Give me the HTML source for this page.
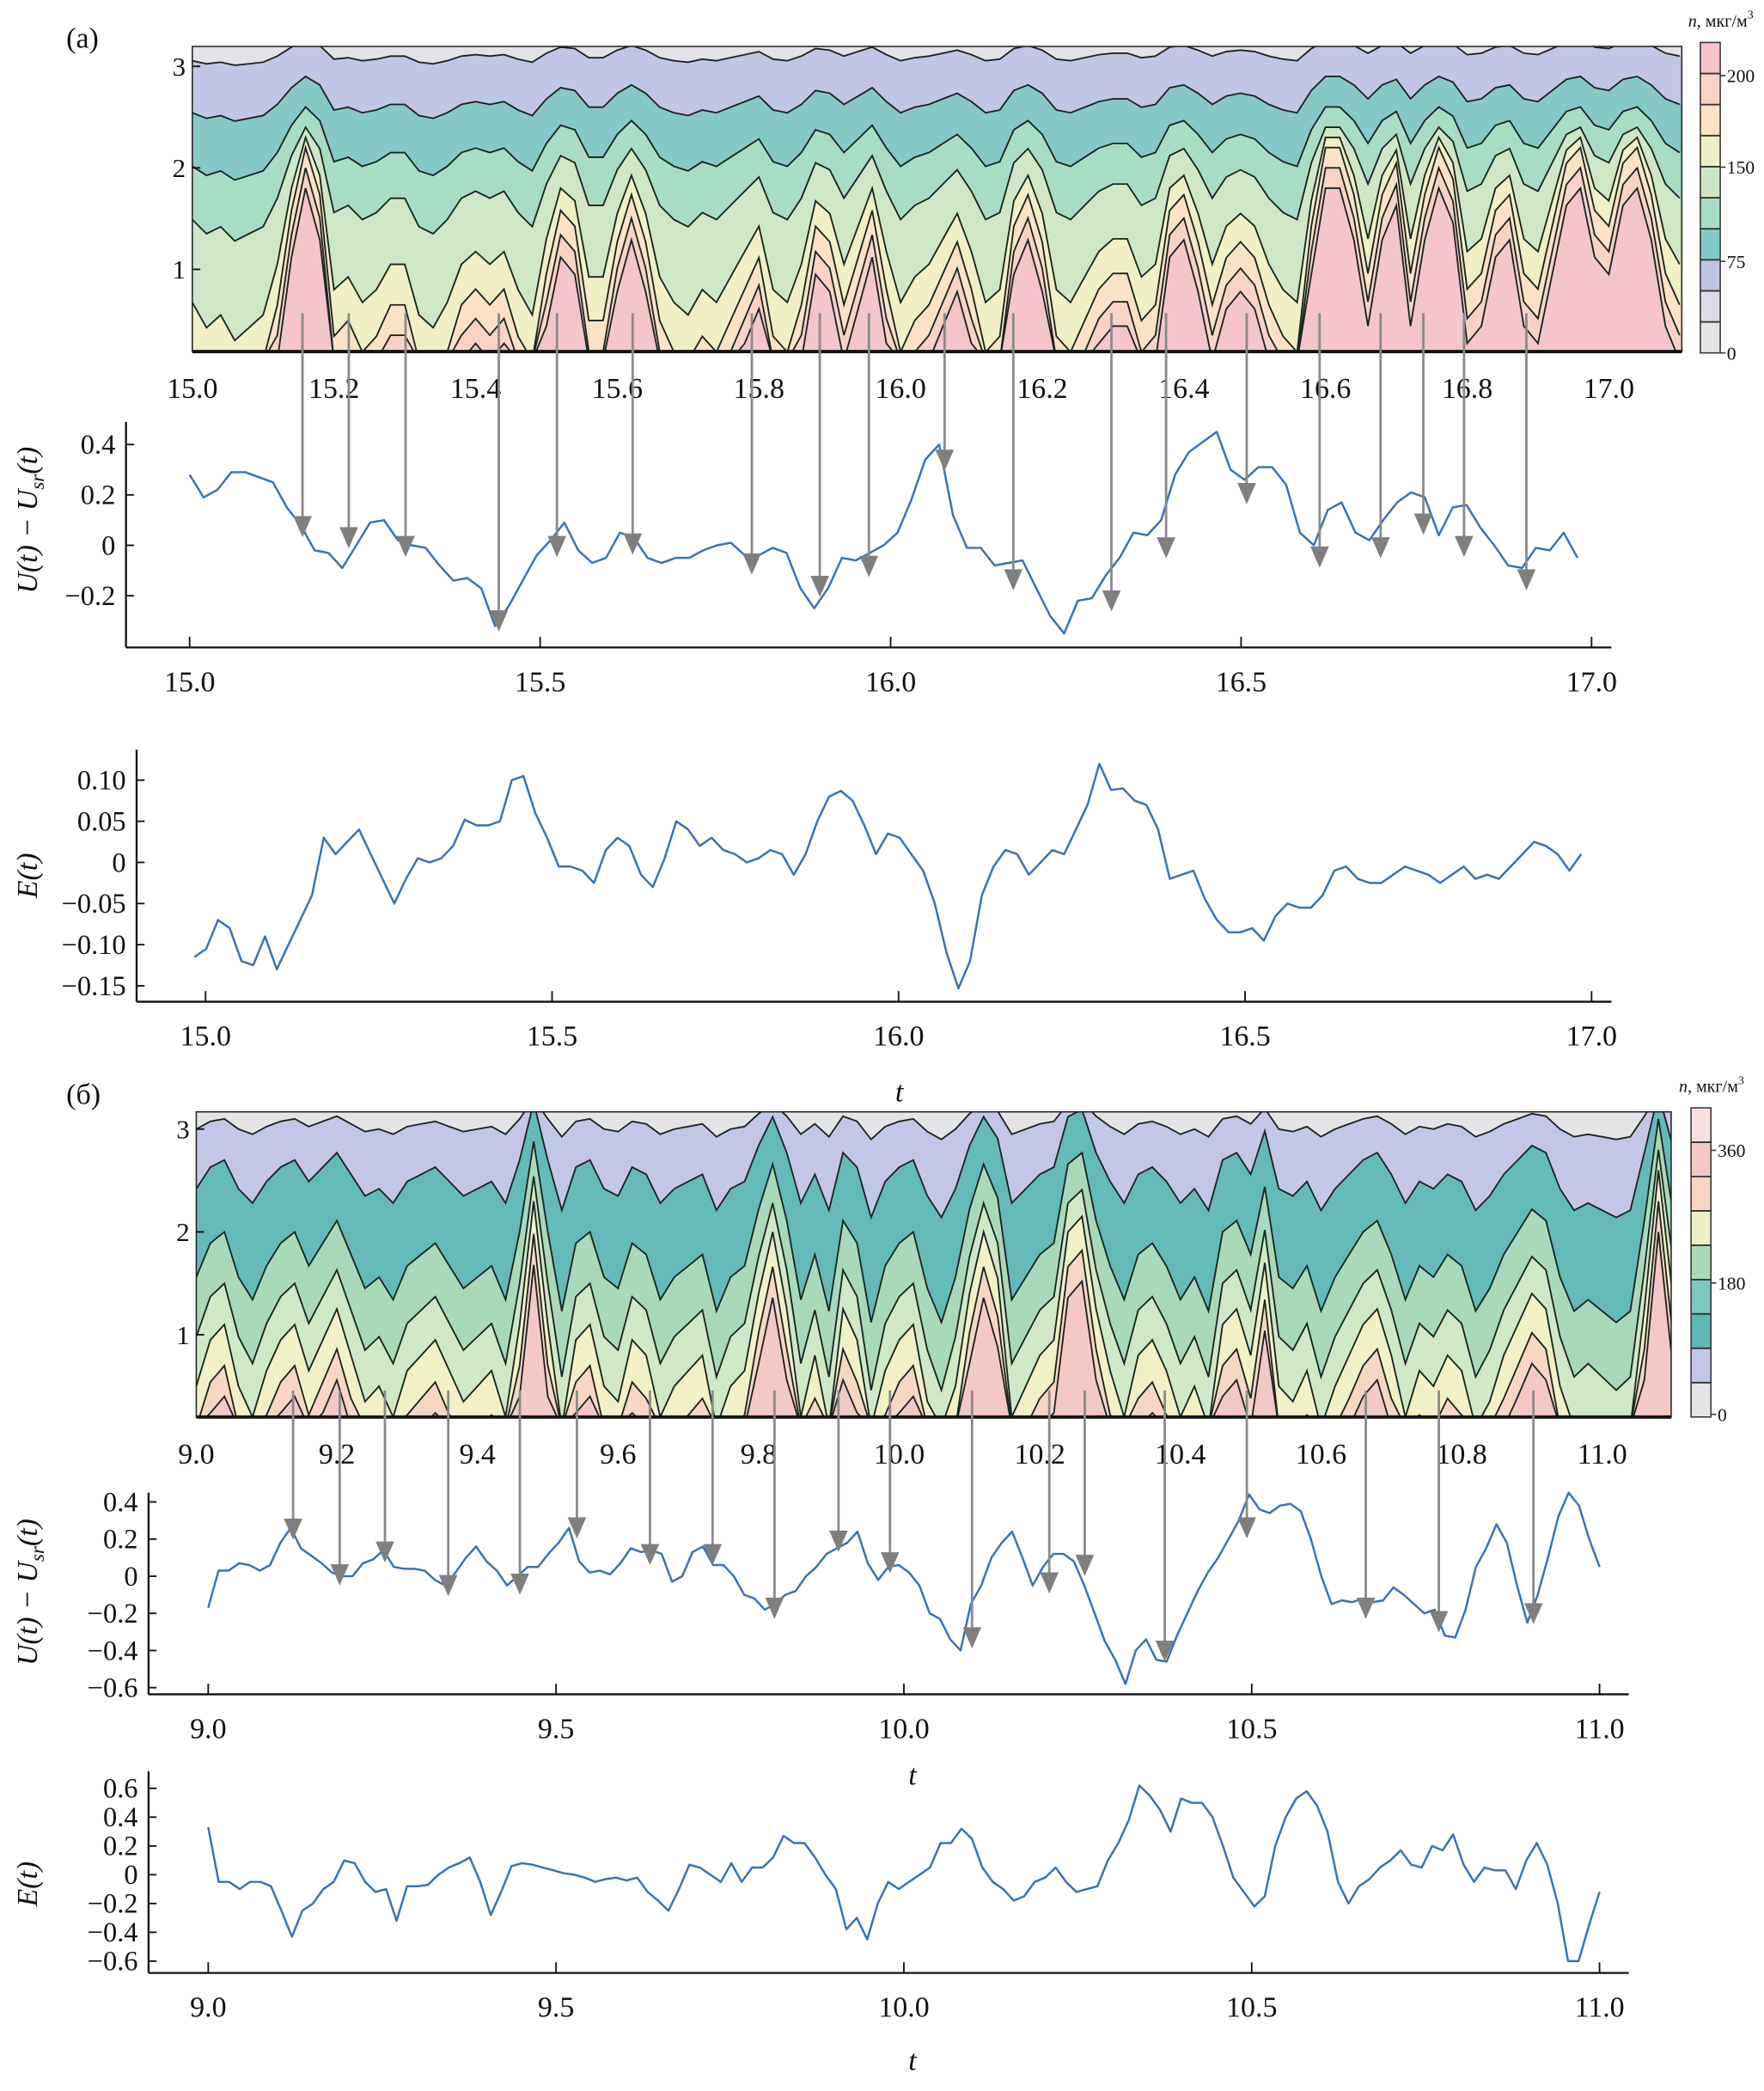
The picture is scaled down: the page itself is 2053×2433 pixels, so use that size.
<!DOCTYPE html>
<html><head><meta charset="utf-8"><style>
html,body{margin:0;padding:0;background:#fff}
svg{display:block}
text{font-family:"Liberation Serif",serif;fill:#111}
</style></head><body>
<svg id="fig" xmlns="http://www.w3.org/2000/svg" width="2053" height="2433" viewBox="0 0 1330 1576" preserveAspectRatio="none">
<defs>
<clipPath id="clipA"><rect x="145" y="35" width="1123" height="230"/></clipPath>
<clipPath id="clipB"><rect x="148" y="838" width="1112" height="230"/></clipPath>
</defs>
<g id="root"></g>
</svg>
<script>
// ---------- data ----------
const densA = [0.35,0.25,0.3,0.2,0.25,0.3,0.5,0.8,1.0,0.85,0.4,0.45,0.35,0.4,0.5,0.5,0.3,0.25,0.35,0.5,0.55,0.5,0.55,0.4,0.3,0.6,0.8,0.75,0.45,0.45,0.7,0.85,0.7,0.45,0.35,0.3,0.4,0.35,0.45,0.55,0.65,0.4,0.35,0.5,0.75,0.7,0.5,0.65,0.8,0.55,0.35,0.45,0.5,0.6,0.7,0.55,0.35,0.4,0.75,0.85,0.7,0.4,0.35,0.45,0.55,0.6,0.6,0.45,0.5,0.8,0.85,0.7,0.5,0.65,0.7,0.65,0.5,0.4,0.35,0.75,1.0,1.0,0.85,0.6,0.85,0.95,0.6,0.85,1.0,0.9,0.55,0.6,0.8,0.85,0.6,0.55,0.75,0.95,1.0,0.8,0.75,0.95,1.0,0.85,0.6,0.5];
const densB = [0.3,0.45,0.5,0.3,0.2,0.35,0.45,0.5,0.35,0.45,0.55,0.4,0.25,0.3,0.2,0.35,0.4,0.45,0.35,0.25,0.3,0.35,0.2,0.5,0.9,0.5,0.15,0.45,0.5,0.3,0.25,0.45,0.4,0.2,0.3,0.35,0.4,0.15,0.3,0.35,0.6,0.8,0.55,0.2,0.4,0.15,0.55,0.45,0.1,0.35,0.45,0.5,0.25,0.1,0.3,0.6,0.8,0.65,0.2,0.3,0.4,0.45,0.8,0.85,0.55,0.35,0.2,0.4,0.45,0.35,0.2,0.3,0.15,0.5,0.55,0.4,0.7,0.3,0.25,0.35,0.15,0.3,0.4,0.5,0.55,0.4,0.2,0.35,0.3,0.4,0.35,0.15,0.25,0.4,0.5,0.6,0.55,0.3,0.15,0.2,0.15,0.1,0.15,0.55,1.0,0.6];
const uA = [0.28,0.19,0.22,0.29,0.29,0.27,0.25,0.15,0.08,-0.02,-0.03,-0.09,0.0,0.09,0.10,0.02,0.0,-0.01,-0.08,-0.14,-0.13,-0.17,-0.32,-0.24,-0.14,-0.04,0.02,0.09,-0.02,-0.07,-0.05,0.05,0.03,-0.05,-0.07,-0.05,-0.05,-0.02,0.0,0.01,-0.04,-0.04,-0.01,-0.03,-0.17,-0.25,-0.17,-0.05,-0.06,-0.03,0.0,0.05,0.18,0.34,0.40,0.12,-0.01,-0.01,-0.08,-0.07,-0.06,-0.17,-0.28,-0.35,-0.22,-0.21,-0.12,-0.05,0.05,0.04,0.10,0.28,0.37,0.41,0.45,0.30,0.26,0.31,0.31,0.24,0.05,0.0,0.14,0.17,0.05,0.02,0.10,0.17,0.21,0.19,0.04,0.15,0.16,0.07,0.0,-0.08,-0.09,-0.01,-0.02,0.05,-0.05];
const eA = [-0.115,-0.105,-0.07,-0.08,-0.12,-0.125,-0.09,-0.13,-0.10,-0.07,-0.04,0.03,0.01,0.025,0.04,0.01,-0.02,-0.05,-0.02,0.005,0.0,0.005,0.02,0.052,0.045,0.045,0.05,0.10,0.105,0.06,0.03,-0.005,-0.005,-0.01,-0.025,0.015,0.03,0.02,-0.015,-0.03,0.005,0.05,0.04,0.02,0.03,0.015,0.01,0.0,0.005,0.015,0.01,-0.015,0.01,0.05,0.08,0.087,0.075,0.045,0.01,0.035,0.03,0.01,-0.01,-0.05,-0.11,-0.153,-0.12,-0.04,-0.005,0.015,0.01,-0.015,0.0,0.015,0.01,0.04,0.07,0.12,0.088,0.09,0.075,0.07,0.04,-0.02,-0.015,-0.01,-0.045,-0.07,-0.085,-0.085,-0.08,-0.095,-0.065,-0.05,-0.055,-0.055,-0.04,-0.01,-0.005,-0.02,-0.025,-0.025,-0.015,-0.005,-0.01,-0.015,-0.025,-0.015,-0.005,-0.02,-0.015,-0.02,-0.005,0.01,0.025,0.02,0.01,-0.01,0.01];
const uB = [-0.17,0.03,0.03,0.07,0.06,0.03,0.06,0.18,0.26,0.15,0.11,0.07,0.02,0.0,0.0,0.07,0.09,0.14,0.05,0.04,0.04,0.03,-0.02,-0.05,0.02,0.10,0.16,0.08,0.03,-0.05,0.0,0.05,0.05,0.12,0.18,0.26,0.08,0.02,0.03,0.01,0.07,0.15,0.13,0.14,0.12,-0.03,0.0,0.13,0.16,0.06,0.06,0.0,-0.1,-0.12,-0.18,-0.15,-0.1,-0.08,0.0,0.05,0.12,0.15,0.18,0.24,0.07,-0.02,0.05,0.06,0.02,-0.05,-0.2,-0.23,-0.34,-0.40,-0.15,-0.05,0.1,0.18,0.24,0.1,-0.05,0.05,0.12,0.12,0.08,-0.05,-0.2,-0.35,-0.45,-0.58,-0.40,-0.34,-0.45,-0.46,-0.32,-0.20,-0.08,0.02,0.10,0.20,0.30,0.44,0.36,0.34,0.38,0.39,0.35,0.20,0.0,-0.15,-0.13,-0.14,-0.12,-0.14,-0.13,-0.06,-0.10,-0.15,-0.20,-0.18,-0.32,-0.33,-0.18,0.05,0.15,0.28,0.18,-0.05,-0.25,-0.10,0.10,0.32,0.45,0.38,0.2,0.05];
const eB = [0.33,-0.05,-0.05,-0.1,-0.05,-0.05,-0.08,-0.25,-0.43,-0.25,-0.2,-0.1,-0.05,0.1,0.08,-0.05,-0.12,-0.1,-0.32,-0.08,-0.08,-0.07,0.0,0.05,0.08,0.12,-0.05,-0.28,-0.12,0.06,0.08,0.07,0.05,0.03,0.01,0.0,-0.02,-0.05,-0.03,-0.02,-0.04,-0.02,-0.12,-0.18,-0.25,-0.1,0.07,0.05,0.0,-0.05,0.08,-0.05,0.05,0.05,0.12,0.27,0.22,0.22,0.12,0.0,-0.1,-0.38,-0.3,-0.45,-0.2,-0.05,-0.1,-0.05,0.0,0.05,0.22,0.22,0.32,0.25,0.05,-0.05,-0.1,-0.18,-0.15,-0.05,-0.02,0.05,-0.05,-0.12,-0.1,-0.08,0.1,0.22,0.38,0.62,0.55,0.45,0.3,0.53,0.5,0.5,0.4,0.2,-0.02,-0.12,-0.22,-0.15,0.2,0.4,0.53,0.58,0.48,0.3,-0.05,-0.2,-0.08,-0.03,0.05,0.1,0.17,0.07,0.05,0.2,0.17,0.28,0.07,-0.05,0.05,0.03,0.03,-0.1,0.1,0.22,0.07,-0.2,-0.6,-0.6,-0.35,-0.12];
const arrowTA = [15.161,15.227,15.308,15.441,15.524,15.632,15.802,15.899,15.969,16.077,16.175,16.315,16.393,16.508,16.612,16.699,16.760,16.818,16.907];
const arrowUA = [0.074,0.03,-0.005,-0.30,-0.005,0.005,-0.074,-0.163,-0.084,0.337,-0.137,-0.221,-0.01,0.205,-0.047,-0.01,0.084,-0.005,-0.137];
const arrowTB = [9.122,9.189,9.254,9.345,9.448,9.530,9.635,9.725,9.814,9.906,9.980,10.098,10.209,10.260,10.375,10.493,10.664,10.769,10.905];
const arrowUB = [0.253,0.007,0.130,-0.051,-0.043,0.260,0.116,0.116,-0.173,0.188,0.072,-0.332,-0.036,0.058,-0.404,0.260,-0.173,-0.245,-0.202];
const ticksContA = ["15.0","15.2","15.4","15.6","15.8","16.0","16.2","16.4","16.6","16.8","17.0"];
const ticksContB = ["9.0","9.2","9.4","9.6","9.8","10.0","10.2","10.4","10.6","10.8","11.0"];
const ticksUA = ["0.4","0.2","0","\u22120.2"], ticksUAv=[0.4,0.2,0,-0.2];
const ticksEA = ["0.10","0.05","0","\u22120.05","\u22120.10","\u22120.15"], ticksEAv=[0.10,0.05,0,-0.05,-0.10,-0.15];
const ticksUB = ["0.4","0.2","0","\u22120.2","\u22120.4","\u22120.6"], ticksUBv=[0.4,0.2,0,-0.2,-0.4,-0.6];
const ticksEB = ["0.6","0.4","0.2","0","\u22120.2","\u22120.4","\u22120.6"], ticksEBv=[0.6,0.4,0.2,0,-0.2,-0.4,-0.6];

// ---------- helpers ----------
const NS="http://www.w3.org/2000/svg";
const root=document.getElementById('root');
function mk(tag,attrs,parent,txt){const e=document.createElementNS(NS,tag);for(const k in attrs)e.setAttribute(k,attrs[k]);if(txt!==undefined)e.textContent=txt;(parent||root).appendChild(e);return e;}
function lin(d0,d1,r0,r1){return v=>r0+(v-d0)*(r1-r0)/(d1-d0);}

// ---------- contour panel ----------
function contour(opt){
  const g=mk('g',{});
  
  
  const xs=lin(opt.t0,opt.t1,opt.x0,opt.x1), ys=lin(3,1,opt.y3,opt.y1);
  const n=opt.dens.length;
  const gc=mk('g',{'clip-path':'url(#'+opt.clip+')'},g);
  mk('rect',{x:opt.L,y:opt.T,width:opt.R-opt.L,height:opt.B-opt.T,fill:opt.colors[0]},gc);
  const lines=[];
  opt.bounds.forEach((b,m)=>{
    const pts=[];
    for(let j=0;j<n;j++){const t=opt.c0+opt.cs*j;let h=b[0]+b[1]*opt.dens[j];h=Math.max(0.1,Math.min(3.35,h));pts.push([xs(t),ys(h)]);}
    let d='M'+opt.L+','+opt.T+' L'+opt.L+','+pts[0][1]+' '+pts.map(p=>p[0].toFixed(1)+','+p[1].toFixed(1)).join(' ')+' L'+opt.R+','+pts[n-1][1]+' L'+opt.R+','+opt.T+' Z';
    const band=mk('path',{d:d,fill:opt.colors[m+1]},gc);
    
    
    lines.push(pts);
  });
  lines.forEach((pts,m)=>{
    const pl=mk('polyline',{points:pts.map(p=>p[0].toFixed(1)+','+p[1].toFixed(1)).join(' '),fill:'none',stroke:'#1a2422','stroke-width':1.2},gc);
    
    
  });
  mk('rect',{x:opt.L,y:opt.T,width:opt.R-opt.L,height:opt.B-opt.T,fill:'none',stroke:'#222','stroke-width':1},g);
  mk('line',{x1:opt.L,y1:opt.B,x2:opt.R,y2:opt.B,stroke:'#111','stroke-width':2.5},g);
  [1,2,3].forEach(v=>{
    mk('line',{x1:opt.L,y1:ys(v),x2:opt.L+6,y2:ys(v),stroke:'#111','stroke-width':1.2},g);
    const tl=mk('text',{x:opt.L-5,y:ys(v)+7,'font-size':20,'text-anchor':'end'},g,String(v));
    
    
  });
  opt.ticks.forEach((s,i)=>{
    const tl=mk('text',{x:xs(opt.t0+0.2*i),y:opt.B+35,'font-size':22,'text-anchor':'middle'},g,s);
    
    
  });
  const cb=mk('g',{},g);
  
  
  const nb=opt.cbColors.length, bh=(opt.cbB-opt.cbT)/nb;
  opt.cbColors.forEach((c,i)=>{
    mk('rect',{x:opt.cbX,y:opt.cbB-(i+1)*bh,width:15,height:bh,fill:c},cb);
    if(i>0) mk('line',{x1:opt.cbX,x2:opt.cbX+15,y1:opt.cbB-i*bh,y2:opt.cbB-i*bh,stroke:'#333','stroke-width':1.2},cb);
  });
  mk('rect',{x:opt.cbX,y:opt.cbT,width:15,height:opt.cbB-opt.cbT,fill:'none',stroke:'#333','stroke-width':1},cb);
  opt.cbLabels.forEach(l=>{
    mk('line',{x1:opt.cbX+15,x2:opt.cbX+19,y1:l[1],y2:l[1],stroke:'#333'},cb);
    mk('text',{x:opt.cbX+20,y:l[1]+5,'font-size':14},cb,l[0]);
  });
  const un=mk('text',{x:opt.cbX+40,y:opt.cbT-12,'font-size':13,'text-anchor':'end'},cb);
  un.innerHTML='<tspan font-style="italic">n</tspan>, мкг/м<tspan font-size="9" dy="-6">3</tspan>';
}

// ---------- line panel ----------
function linePanel(opt){
  const g=mk('g',{});
  
  
  const xs=lin(opt.t0,opt.t1,opt.x0,opt.x1), ys=lin(opt.v0,opt.v1,opt.y0,opt.y1);
  mk('line',{x1:opt.axL,y1:opt.axB,x2:opt.axR,y2:opt.axB,stroke:'#111','stroke-width':1.5},g);
  mk('line',{x1:opt.axL,y1:opt.axT,x2:opt.axL,y2:opt.axB,stroke:'#111','stroke-width':1.5},g);
  for(let i=0;i<5;i++){const t=opt.t0+0.5*i;
    mk('line',{x1:xs(t),y1:opt.axB,x2:xs(t),y2:opt.axB-8,stroke:'#111','stroke-width':1.2},g);
    const tl=mk('text',{x:xs(t),y:opt.axB+33,'font-size':22,'text-anchor':'middle'},g,(opt.t0+0.5*i).toFixed(1));
    
    
  }
  opt.yt.forEach((s,i)=>{const y=ys(opt.ytv[i]);
    mk('line',{x1:opt.axL,y1:y,x2:opt.axL+6,y2:y,stroke:'#111','stroke-width':1.2},g);
    const tl=mk('text',{x:opt.axL-8,y:y+7,'font-size':21,'text-anchor':'end'},g,s);
    
    
  });
  const n=opt.vals.length, st=(opt.te-opt.ts)/(n-1);
  const pts=opt.vals.map((v,i)=>xs(opt.ts+st*i).toFixed(1)+','+ys(v).toFixed(1)).join(' ');
  const pl=mk('polyline',{points:pts,fill:'none',stroke:'#3a72b0','stroke-width':1.6,'stroke-linejoin':'round'},g);
  
  
  const yl=mk('text',{transform:'translate('+opt.ylx+','+opt.yly+') rotate(-90)','font-size':22,'text-anchor':'middle','font-style':'italic'},g);
  yl.innerHTML=opt.ylabel;
  
  
  if(opt.tlab){const tt=mk('text',{x:opt.tlab[0],y:opt.tlab[1],'font-size':22,'font-style':'italic','text-anchor':'middle'},g,'t');
    
    }
  return {xs,ys,g};
}
function arrows(p,ts,us,topY){
  ts.forEach((t,i)=>{
    const x=p.xs(t), y=p.ys(us[i]);
    const a=mk('g',{},p.g);
    
    
    mk('line',{x1:x,y1:topY,x2:x,y2:y,stroke:'#8a8a8a','stroke-width':1.8},a);
    mk('polygon',{points:(x-7)+','+(y-8)+' '+(x+7)+','+(y-8)+' '+x+','+(y+8),fill:'#7f7f7f'},a);
  });
}

// ---------- build ----------
const la=mk('text',{x:50,y:36,'font-size':22},root,'(a)');


const lb=mk('text',{x:50,y:832,'font-size':22},root,'(б)');



contour({name:'contour-a',clip:'clipA',L:145,R:1268,T:35,B:265,t0:15,t1:17,x0:145,x1:1213,y3:50,y1:203,c0:15.0,cs:0.02,dens:densA,
  colors:['#f4c5c9','#f8d3c5','#fbe2c6','#f1efc5','#cfe7c4','#a8dcc5','#86c9c7','#c2c6e6','#e2e2e8'],
  bounds:[[-1.6,3.4],[-1.3,3.3],[-0.9,3.1],[-0.2,2.5],[1.0,1.4],[1.7,0.9],[2.35,0.55],[2.95,0.3]],
  ticks:ticksContA,cbX:1282,cbT:32,cbB:266,
  cbColors:['#e4e4e4','#dcdce6','#c0c4e4','#85c8c8','#a8dcc4','#cde7c2','#eef0c4','#fbe2c4','#f8d2c4','#f4c4c8'],
  cbLabels:[['200',57],['150',126],['75',197],['0',266]]});

contour({name:'contour-b',clip:'clipB',L:148,R:1260,T:838,B:1068,t0:9,t1:11,x0:148,x1:1208,y3:851,y1:1006,c0:9.0,cs:0.02,dens:densB,
  colors:['#f4c8c6','#f8d6c4','#f2f0c6','#cfe8c6','#a9d9b8','#64bab8','#c4c6e8','#e4e4e6'],
  bounds:[[-1.2,3.2],[-0.9,3.2],[-0.4,3.0],[0.2,2.6],[0.9,2.2],[2.0,1.4],[2.85,0.5]],
  ticks:ticksContB,cbX:1275,cbT:835,cbB:1068,
  cbColors:['#e4e4e4','#c4c6e8','#5fb8b4','#7fc8c0','#a9d9b8','#eeefc4','#f8d5c2','#f4c8c6','#f8e0e0'],
  cbLabels:[['360',867],['180',967],['0',1066]]});

const pUA=linePanel({name:'u-plot-a',t0:15,t1:17,x0:143,x1:1200,v0:0,v1:0.4,y0:411,y1:335,axL:95,axR:1215,axT:318,axB:488,
  yt:ticksUA,ytv:ticksUAv,vals:uA,ts:15.0,te:16.98,ylx:28,yly:392,
  ylabel:'U(t) \u2212 U<tspan font-size="15" dy="5">sr</tspan><tspan dy="-5">(t)</tspan>'});
arrows(pUA,arrowTA,arrowUA,236);

linePanel({name:'e-plot-a',t0:15,t1:17,x0:155,x1:1200,v0:0,v1:0.1,y0:650,y1:588,axL:103,axR:1215,axT:565,axB:755,
  yt:ticksEA,ytv:ticksEAv,vals:eA,ts:14.984,te:16.985,ylx:28,yly:660,ylabel:'E(t)',tlab:[678,830]});

const pUB=linePanel({name:'u-plot-b',t0:9,t1:11,x0:157,x1:1206,v0:0,v1:0.4,y0:1188,y1:1132,axL:112,axR:1228,axT:1125,axB:1277,
  yt:ticksUB,ytv:ticksUBv,vals:uB,ts:9.0,te:11.0,ylx:28,yly:1200,
  ylabel:'U(t) \u2212 U<tspan font-size="15" dy="5">sr</tspan><tspan dy="-5">(t)</tspan>',tlab:[688,1345]});
arrows(pUB,arrowTB,arrowUB,1048);

linePanel({name:'e-plot-b',t0:9,t1:11,x0:157,x1:1206,v0:0,v1:0.2,y0:1413,y1:1391.3,axL:112,axR:1228,axT:1335,axB:1487,
  yt:ticksEB,ytv:ticksEBv,vals:eB,ts:9.0,te:11.0,ylx:28,yly:1420,ylabel:'E(t)',tlab:[688,1560]});
</script>
</body></html>
